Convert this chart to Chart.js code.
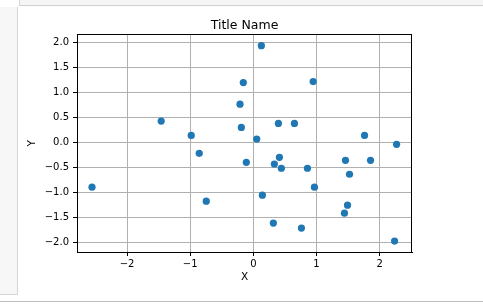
<!DOCTYPE html>
<html>
<head>
<meta charset="utf-8">
<script src="https://cdn.jsdelivr.net/npm/chart.js@4"></script>
<style>
  html, body { margin: 0; padding: 0; background: #fff; width: 483px; height: 307px; overflow: hidden; }
  #topband { position: absolute; left: 19px; top: 0; width: 464px; height: 5px; background: #f5f5f5; border-left: 1px solid #d6d6d6; border-bottom: 1px solid #d0d0d0; }
  #leftpanel { position: absolute; left: 0; top: 7px; width: 17px; height: 287px; background: #f7f7f7; border-right: 1px solid #d6d6d6; border-bottom: 1px solid #d6d6d6; }
  #bottomline { position: absolute; left: 0; top: 301px; width: 483px; height: 1px; background: #bdbdbd; }
  #wrap { position: absolute; left: 0; top: 0; width: 483px; height: 307px; }
</style>
</head>
<body>
<div id="topband"></div>
<div id="leftpanel"></div>
<div id="bottomline"></div>
<div id="wrap"><canvas id="c" width="483" height="307"></canvas></div>
<script>
const titleText = "Title Name";
const xLabel = "X";
const yLabel = "Y";
const xValues = [-1.46, -0.984, -0.211, -0.19, 0.127, -0.159, 0.948, 0.397, 0.651, 0.054,
                 1.762, 2.27, -2.556, -0.857, -0.746, -0.111, 0.413, 0.333, 0.444, 0.857,
                 1.46, 1.857, 1.524, 0.968, 0.143, 1.492, 1.444, 0.317, 0.762, 2.238];
const yValues = [0.426, 0.14, 0.766, 0.3, 1.94, 1.2, 1.22, 0.38, 0.38, 0.066,
                 0.14, -0.04, -0.9, -0.22, -1.18, -0.4, -0.3, -0.434, -0.52, -0.52,
                 -0.36, -0.36, -0.64, -0.9, -1.06, -1.26, -1.42, -1.62, -1.72, -1.98];
const xTicks = [-2, -1, 0, 1, 2];
const yTicks = [-2.0, -1.5, -1.0, -0.5, 0.0, 0.5, 1.0, 1.5, 2.0];
const xRange = [-2.794, 2.514];
const yRange = [-2.2, 2.166];

const points = xValues.map((x, i) => ({ x: x, y: yValues[i] }));
const fmtMinus = s => s.replace('-', '\u2212');

const frame = {
  id: 'frame',
  afterDatasetsDraw(chart) {
    const a = chart.chartArea, ctx = chart.ctx;
    ctx.save();
    ctx.strokeStyle = '#000';
    ctx.lineWidth = 1;
    ctx.strokeRect(Math.round(a.left) + 0.5, Math.round(a.top) + 0.5,
                   Math.round(a.right - a.left) - 1 + 0, Math.round(a.bottom - a.top) - 0);
    ctx.restore();
  }
};

new Chart(document.getElementById('c'), {
  type: 'scatter',
  data: {
    datasets: [{
      data: points,
      backgroundColor: '#1f77b4',
      borderWidth: 0,
      pointRadius: 3.6,
      pointHoverRadius: 3.6
    }]
  },
  options: {
    responsive: false,
    animation: false,
    events: [],
    layout: { padding: { left: 0, right: 71, top: 0, bottom: 0 } },
    plugins: {
      legend: { display: false },
      tooltip: { enabled: false },
      title: {
        display: true,
        fullSize: false,
        text: titleText,
        color: '#000',
        font: { family: 'DejaVu Sans', size: 12.5, weight: 'normal' },
        padding: { top: 18.4, bottom: 1 }
      }
    },
    scales: {
      x: {
        type: 'linear',
        min: xRange[0], max: xRange[1],
        afterFit: s => { s.height = 55; },
        afterBuildTicks: s => { s.ticks = xTicks.map(v => ({ value: v })); },
        ticks: {
          includeBounds: false,
          color: '#000',
          padding: 2,
          maxRotation: 0,
          font: { family: 'DejaVu Sans', size: 10 },
          callback: v => fmtMinus(String(v))
        },
        grid: { color: '#b0b0b0', tickColor: '#000', tickLength: 4, lineWidth: 1 },
        border: { display: true, color: '#000', width: 1 },
        title: {
          display: true, text: xLabel, color: '#000',
          font: { family: 'DejaVu Sans', size: 10.5 },
          padding: { top: 0, bottom: 23.5 }
        }
      },
      y: {
        type: 'linear',
        min: yRange[0], max: yRange[1],
        afterFit: s => { s.width = 77; },
        afterBuildTicks: s => { s.ticks = yTicks.map(v => ({ value: v })); },
        ticks: {
          includeBounds: false,
          color: '#000',
          padding: 4,
          font: { family: 'DejaVu Sans', size: 10 },
          callback: v => fmtMinus(Number(v).toFixed(1))
        },
        grid: { color: '#b0b0b0', tickColor: '#000', tickLength: 4, lineWidth: 1 },
        border: { display: true, color: '#000', width: 1 },
        title: {
          display: true, text: yLabel, color: '#000',
          font: { family: 'DejaVu Sans', size: 10.5 },
          padding: { top: 25.5, bottom: 0 }
        }
      }
    }
  },
  plugins: [frame]
});
</script>
</body>
</html>
